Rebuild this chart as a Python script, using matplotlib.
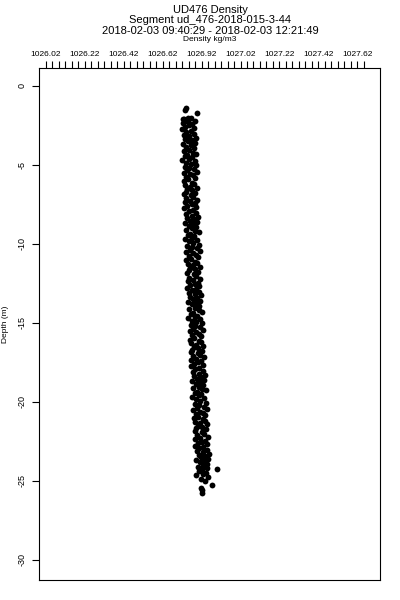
import matplotlib
matplotlib.use("Agg")
import matplotlib.pyplot as plt

# top axis labels (as printed on the chart)
x_labels = ["1026.02", "1026.22", "1026.42", "1026.62", "1026.92",
            "1027.02", "1027.22", "1027.42", "1027.62"]
y_ticks = [0, -5, -10, -15, -20, -25, -30]

depth = [
    -1.39, -1.52, -1.72, -2.02, -2.10,
    -2.04, -2.12, -2.20, -2.27, -2.35, -2.43, -2.50, -2.58, -2.66, -2.74, -2.82, -2.91,
    -3.03, -3.11, -3.19, -3.28, -3.36, -3.44, -3.51, -3.59, -3.67, -3.75, -3.84, -3.92,
    -4.05, -4.13, -4.21, -4.29, -4.37, -4.44, -4.52, -4.61, -4.69, -4.77, -4.85, -4.93,
    -5.02, -5.10, -5.18, -5.26, -5.34, -5.42, -5.49, -5.57, -5.65, -5.73, -5.81, -5.90,
    -6.04, -6.12, -6.21, -6.29, -6.37, -6.45, -6.53, -6.60, -6.68, -6.76, -6.84, -6.93,
    -7.03, -7.11, -7.19, -7.27, -7.35, -7.42, -7.50, -7.58, -7.66, -7.75, -7.83, -7.91,
    -8.05, -8.13, -8.21, -8.28, -8.36, -8.44, -8.52, -8.60, -8.68, -8.76, -8.84, -8.92,
    -9.02, -9.10, -9.18, -9.27, -9.35, -9.43, -9.51, -9.59, -9.66, -9.74, -9.82, -9.91,
    -10.04, -10.12, -10.20, -10.28, -10.36, -10.44, -10.52, -10.60, -10.67, -10.75, -10.83, -10.92,
    -11.03, -11.11, -11.19, -11.27, -11.35, -11.43, -11.51, -11.59, -11.67, -11.75, -11.83, -11.92,
    -12.05, -12.13, -12.21, -12.29, -12.37, -12.45, -12.52, -12.60, -12.68, -12.76, -12.84, -12.93,
    -13.02, -13.10, -13.18, -13.26, -13.34, -13.42, -13.50, -13.58, -13.66, -13.74, -13.82, -13.90,
    -14.04, -14.12, -14.20, -14.28, -14.37, -14.45, -14.53, -14.61, -14.69, -14.77, -14.85, -14.93,
    -15.03, -15.11, -15.19, -15.27, -15.35, -15.43, -15.51, -15.59, -15.67, -15.75, -15.83, -15.92,
    -16.05, -16.13, -16.21, -16.29, -16.37, -16.45, -16.52, -16.60, -16.68, -16.76, -16.84, -16.93,
    -17.02, -17.10, -17.18, -17.26, -17.34, -17.42, -17.50, -17.58, -17.66, -17.74, -17.82, -17.91,
    -18.04, -18.12, -18.20, -18.28, -18.36, -18.44, -18.52, -18.60, -18.68, -18.76, -18.84, -18.92,
    -19.03, -19.11, -19.19, -19.27, -19.35, -19.43, -19.51, -19.59, -19.67, -19.75, -19.83, -19.91,
    -20.05, -20.13, -20.21, -20.29, -20.37, -20.45, -20.53, -20.61, -20.69, -20.77, -20.85, -20.93,
    -21.02, -21.10, -21.18, -21.26, -21.34, -21.42, -21.50, -21.58, -21.66, -21.74, -21.82, -21.91,
    -22.04, -22.12, -22.20, -22.28, -22.36, -22.44, -22.52, -22.60, -22.68, -22.76, -22.84, -22.93,
    -23.03, -23.11, -23.19, -23.27, -23.35, -23.43, -23.51, -23.59, -23.67, -23.75, -23.83, -23.91,
    -24.03, -24.10, -24.18, -24.24, -24.31, -24.39, -24.47, -24.55, -24.62, -24.75,
    -24.85, -25.02, -25.25, -25.45, -25.60, -25.76,
]

density = [
    1026.740, 1026.735, 1026.795, 1026.748, 1026.726,
    1026.767, 1026.730, 1026.786, 1026.748, 1026.722, 1026.773, 1026.757, 1026.736, 1026.781, 1026.718, 1026.764, 1026.742,
    1026.779, 1026.729, 1026.757, 1026.791, 1026.735, 1026.771, 1026.748, 1026.785, 1026.722, 1026.763, 1026.742, 1026.780,
    1026.755, 1026.728, 1026.775, 1026.791, 1026.747, 1026.735, 1026.769, 1026.757, 1026.720, 1026.784, 1026.741, 1026.764,
    1026.790, 1026.733, 1026.755, 1026.780, 1026.747, 1026.797, 1026.727, 1026.762, 1026.776, 1026.740, 1026.788, 1026.752,
    1026.727, 1026.772, 1026.783, 1026.733, 1026.760, 1026.796, 1026.746, 1026.770, 1026.740, 1026.786, 1026.731, 1026.767,
    1026.778, 1026.741, 1026.797, 1026.759, 1026.733, 1026.784, 1026.768, 1026.747, 1026.792, 1026.729, 1026.774, 1026.754,
    1026.790, 1026.741, 1026.769, 1026.803, 1026.747, 1026.783, 1026.760, 1026.797, 1026.734, 1026.775, 1026.754, 1026.792,
    1026.768, 1026.741, 1026.788, 1026.804, 1026.760, 1026.748, 1026.782, 1026.770, 1026.733, 1026.797, 1026.755, 1026.777,
    1026.804, 1026.747, 1026.769, 1026.794, 1026.761, 1026.811, 1026.741, 1026.776, 1026.790, 1026.754, 1026.802, 1026.765,
    1026.742, 1026.787, 1026.798, 1026.749, 1026.775, 1026.811, 1026.762, 1026.785, 1026.755, 1026.802, 1026.746, 1026.782,
    1026.792, 1026.756, 1026.812, 1026.774, 1026.748, 1026.799, 1026.784, 1026.762, 1026.807, 1026.744, 1026.789, 1026.768,
    1026.806, 1026.756, 1026.784, 1026.818, 1026.762, 1026.797, 1026.775, 1026.812, 1026.749, 1026.790, 1026.769, 1026.807,
    1026.784, 1026.757, 1026.804, 1026.820, 1026.776, 1026.764, 1026.798, 1026.786, 1026.749, 1026.813, 1026.771, 1026.793,
    1026.821, 1026.765, 1026.786, 1026.811, 1026.778, 1026.828, 1026.758, 1026.793, 1026.807, 1026.771, 1026.819, 1026.782,
    1026.760, 1026.805, 1026.816, 1026.767, 1026.793, 1026.829, 1026.780, 1026.803, 1026.773, 1026.820, 1026.764, 1026.800,
    1026.811, 1026.775, 1026.831, 1026.793, 1026.767, 1026.818, 1026.803, 1026.781, 1026.826, 1026.763, 1026.808, 1026.787,
    1026.825, 1026.776, 1026.804, 1026.838, 1026.782, 1026.817, 1026.795, 1026.832, 1026.769, 1026.810, 1026.789, 1026.827,
    1026.804, 1026.777, 1026.824, 1026.840, 1026.796, 1026.784, 1026.818, 1026.806, 1026.769, 1026.833, 1026.791, 1026.813,
    1026.841, 1026.785, 1026.806, 1026.831, 1026.798, 1026.848, 1026.778, 1026.814, 1026.827, 1026.792, 1026.839, 1026.803,
    1026.780, 1026.825, 1026.836, 1026.786, 1026.813, 1026.849, 1026.800, 1026.823, 1026.793, 1026.840, 1026.784, 1026.820,
    1026.832, 1026.796, 1026.852, 1026.814, 1026.788, 1026.839, 1026.824, 1026.802, 1026.847, 1026.784, 1026.829, 1026.808,
    1026.847, 1026.798, 1026.826, 1026.860, 1026.804, 1026.839, 1026.817, 1026.854, 1026.791, 1026.832, 1026.811, 1026.849,
    1026.827, 1026.801, 1026.848, 1026.900, 1026.820, 1026.807, 1026.842, 1026.829, 1026.792, 1026.851,
    1026.818, 1026.836, 1026.873, 1026.815, 1026.822, 1026.822,
]

plt.rcParams['font.family'] = ['Liberation Sans', 'DejaVu Sans']

fig = plt.figure(figsize=(4, 6), dpi=100)
ax = fig.add_axes([0.0975, 0.0333, 0.8525, 0.8534])

ax.plot(density, depth, linestyle='none', marker='o', markersize=4.2,
        color='black', markeredgewidth=0)

ax.set_xlim(1025.984, 1027.737)
ax.set_ylim(-31.27, 1.14)

# labels every 0.2 along the top, small ticks in between
major = [1026.02 + 0.2 * i for i in range(len(x_labels))]
minor = [1026.02 + 0.2 / 6 * k for k in range(50)]
ax.xaxis.tick_top()
ax.set_xticks(major)
ax.set_xticklabels(x_labels)
ax.set_xticks(minor, minor=True)
ax.tick_params(axis='x', which='both', length=5, width=0.8, labelsize=6, pad=2)

ax.set_yticks(y_ticks)
ax.set_yticklabels([str(v) for v in y_ticks], rotation=90, va='center')
ax.tick_params(axis='y', length=5, width=0.8, labelsize=6.5, pad=4)

for s in ax.spines.values():
    s.set_linewidth(0.8)

fig.text(0.525, 0.984, "UD476 Density", ha='center', va='center', fontsize=8)
fig.text(0.525, 0.966, "Segment ud_476-2018-015-3-44", ha='center', va='center', fontsize=8)
fig.text(0.525, 0.948, "2018-02-03 09:40:29 - 2018-02-03 12:21:49", ha='center', va='center', fontsize=8)
fig.text(0.525, 0.934, "Density kg/m3", ha='center', va='center', fontsize=6)
fig.text(0.015, 0.46, "Depth (m)", ha='center', va='center', rotation=90, fontsize=6)

fig.savefig("out.png", dpi=100)
